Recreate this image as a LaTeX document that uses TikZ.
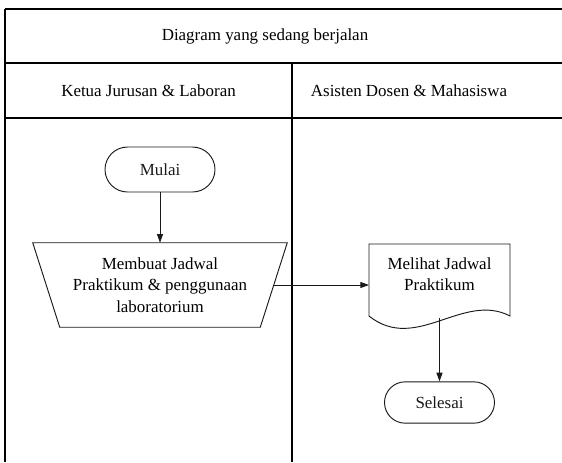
\documentclass[tikz,border=0pt]{standalone}
\usepackage{fontspec}
\setmainfont{LiberationSerif}[Extension=.ttf,UprightFont=*-Regular,BoldFont=*-Bold]
\usetikzlibrary{arrows.meta,shapes.misc}
\begin{document}
\begin{tikzpicture}[x=0.75pt,y=-0.75pt,
  font=\rmfamily\fontsize{12.7}{16}\selectfont,
  frame/.style={line width=1.1pt,black},
  lane/.style={line width=0.9pt,black},
  shapeline/.style={line width=0.7pt,black!90},
  terminal/.style={shapeline,draw,rounded rectangle,minimum width=82.5pt,minimum height=33.75pt,inner sep=0pt},
  txt/.style={align=center,inner sep=0pt},
  flow/.style={line width=0.7pt,black!90,-{Triangle[length=6.5pt,width=4.5pt]}}]
\useasboundingbox (0,0) rectangle (562,462);
% swimlane table
\draw[frame] (5,9) -- (562,9);
\draw[lane] (5,63) -- (562,63);
\draw[lane] (5,118) -- (562,118);
\draw[line width=1.5pt] (5,8.5) -- (5,462);
\draw[lane] (292,63) -- (292,462);
\node[txt] (title) at (265,36) {Diagram yang sedang berjalan};
\node[txt] (laneA) at (148.5,91) {Ketua Jurusan \& Laboran};
\node[txt] (laneB) at (409,91) {Asisten Dosen \& Mahasiswa};
% start
\node[terminal] (mulai) at (160,169.5) {Mulai};
% manual operation (trapezium)
\node[txt,minimum width=190.5pt,minimum height=63pt] (buat) at (160,285)
  {Membuat Jadwal\\Praktikum \& penggunaan\\laboratorium};
\draw[shapeline] (buat.north west) -- (buat.north east)
  -- ([xshift=-20.25pt]buat.south east) -- ([xshift=20.25pt]buat.south west) -- cycle;
% document
\node[txt] (lihat) at (439.5,274.5) {Melihat Jadwal\\Praktikum};
\draw[shapeline] ([shift={(-70.5,-30.5)}]lihat.center) -- ([shift={(70.5,-30.5)}]lihat.center)
  -- ([shift={(70.5,41.5)}]lihat.center)
  .. controls ([shift={(23.5,17)}]lihat.center) and ([shift={(-23.5,79)}]lihat.center) ..
  ([shift={(-70.5,41.5)}]lihat.center) -- cycle;
% end
\node[terminal,minimum height=31pt] (selesai) at (439.5,402.5) {Selesai};
% connectors
\draw[flow] (mulai.south) -- (buat.north);
\draw[flow] ([xshift=-10.1pt]buat.east) -- ([xshift=-52.9pt]lihat.center |- buat.east);
\draw[flow] ([shift={(0,43.5)}]lihat.center) -- (selesai.north);
\end{tikzpicture}
\end{document}
